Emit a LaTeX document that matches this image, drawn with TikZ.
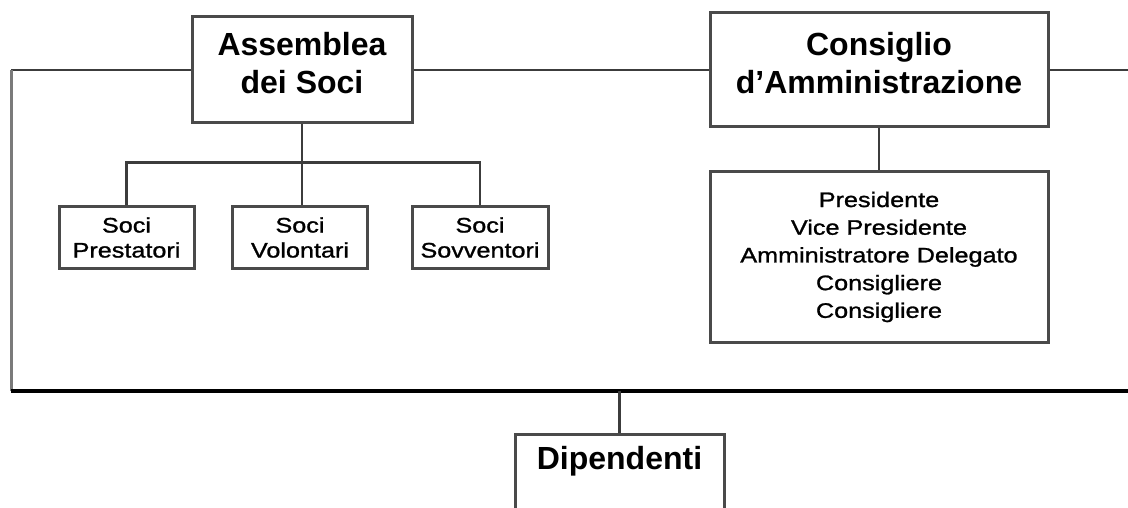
\documentclass[tikz,border=0pt]{standalone}
\usepackage{fontspec}
\setmainfont{Liberation Sans}
\newfontfamily\smallf[FakeStretch=1.2,FakeBold=1.2]{Liberation Sans}
\definecolor{linecol}{HTML}{3C3C3C}
\definecolor{boxcol}{HTML}{4A4A4A}
\definecolor{sidecol}{HTML}{7A7A7A}
\tikzset{
  bigbox/.style={draw=boxcol, line width=3pt, fill=white, align=center, inner sep=0pt,
    font=\fontsize{32}{38}\selectfont\bfseries},
  smallbox/.style={draw=boxcol, line width=3pt, fill=white, align=center, inner sep=0pt,
    font=\fontsize{21}{25}\smallf},
  conn/.style={draw=linecol, line width=2.8pt},
  sideconn/.style={draw=sidecol, line width=3pt},
  mainbar/.style={draw=black, line width=3.5pt},
}
\begin{document}
\begin{tikzpicture}[x=1pt,y=-1pt]
\clip (0,0) rectangle (1128,508);
\fill[white] (0,0) rectangle (1128,508);
% coordinates of the frame
\coordinate (tl) at (11,70);
\coordinate (bl) at (11,391);
\coordinate (br) at (1128,391);
\coordinate (tr) at (1128,70);
% boxes
\node[bigbox, minimum width=220, minimum height=106] (asm) at (302,70)
  {Assemblea\\dei Soci\rule[-15pt]{0pt}{0pt}};
\node[bigbox, minimum width=338, minimum height=114] (con) at (879,70)
  {Consiglio\\d'Amministrazione\rule[-15pt]{0pt}{0pt}};
\node[smallbox, minimum width=135, minimum height=61] (pre) at (126.5,237.5) {Soci\\Prestatori};
\node[smallbox, minimum width=135, minimum height=61] (vol) at (300,237.5) {Soci\\Volontari};
\node[smallbox, minimum width=136, minimum height=61] (sov) at (480,237.5) {Soci\\Sovventori};
\node[smallbox, minimum width=338, minimum height=170, font=\fontsize{21}{27.7}\smallf] (mem) at (879,257)
  {Presidente\\Vice Presidente\\Amministratore Delegato\\Consigliere\\Consigliere};
\node[bigbox, minimum width=209, anchor=north, text height=23pt, text depth=60pt, inner ysep=12pt] (dip) at (619.5,433) {Dipendenti};
% connectors
\draw[conn] (asm.west) -- (tl);
\draw[sideconn] (tl) -- (bl);
\draw[mainbar] (bl) -- (br);
\draw[conn] (asm.east) -- (con.west);
\draw[conn] (con.east) -- (tr);
\draw[conn] (con.south) -- (mem.north);
\draw[conn] (asm.south) -- (asm.south |- vol.north);
\draw[conn] (pre.north) -- ++(0,-43) -| (sov.north);
\draw[conn] (dip.north) -- (dip.north |- bl);
\end{tikzpicture}
\end{document}
